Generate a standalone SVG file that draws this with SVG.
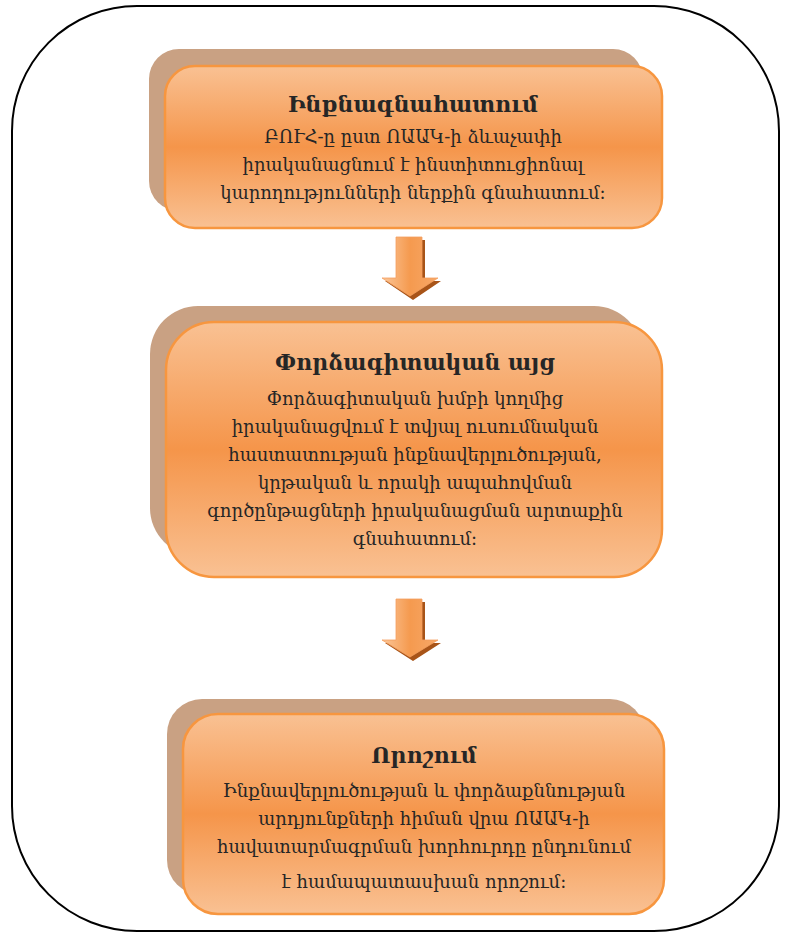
<svg xmlns="http://www.w3.org/2000/svg" width="790" height="934" viewBox="0 0 790 934">
<style>
.shadow{fill:#c9a183}
.box{fill:url(#g);stroke:#f7963f;stroke-width:2.5}
.title{font-family:"DejaVu Serif","Noto Sans",serif;font-weight:bold;font-size:22px;fill:#262626;text-anchor:middle}
.body{font-family:"DejaVu Serif","Noto Sans",serif;font-size:18px;fill:#262626;text-anchor:middle}
</style>
<defs>
<linearGradient id="g" x1="0" y1="0" x2="0" y2="1">
<stop offset="0" stop-color="#f9c193"/>
<stop offset="0.5" stop-color="#f5954a"/>
<stop offset="1" stop-color="#f9c193"/>
</linearGradient>
<linearGradient id="ag" x1="0" y1="0" x2="1" y2="0">
<stop offset="0" stop-color="#fbc79a"/>
<stop offset="0.5" stop-color="#f59a4f"/>
<stop offset="1" stop-color="#f7a868"/>
</linearGradient>
</defs>
<rect x="12" y="6" width="767" height="925" rx="125" ry="125" fill="#fff" stroke="#000" stroke-width="2"/>
<g id="connectors">
<g id="arrow1">
<path d="M399,240 H425 V281 H441 L413,300 L385,281 H399 Z" fill="#a85418"/>
<path d="M396,237 H422 V278 H438 L410,296 L382,278 H396 Z" fill="url(#ag)" stroke="#f4a060" stroke-width="0.8"/>
</g>
<g id="arrow2">
<path d="M399,602 H425 V643 H441 L413,661 L385,643 H399 Z" fill="#a85418"/>
<path d="M396,599 H422 V640 H438 L410,657 L382,640 H396 Z" fill="url(#ag)" stroke="#f4a060" stroke-width="0.8"/>
</g>
</g>
<g id="node1">
<rect class="shadow" x="149" y="49" width="494" height="162" rx="30"/>
<rect class="box" x="165" y="66" width="497" height="162" rx="30"/>
<text class="title" x="413" y="112">Ինքնագնահատում</text>
<text class="body" x="413" y="143">ԲՈՒՀ-ը ըստ ՈԱԱԿ-ի ձևաչափի</text>
<text class="body" x="413" y="171">իրականացնում է ինստիտուցիոնալ</text>
<text class="body" x="413" y="199">կարողությունների ներքին գնահատում:</text>
</g>
<g id="node2">
<rect class="shadow" x="150" y="306" width="492" height="250" rx="48"/>
<rect class="box" x="166" y="322" width="496" height="255" rx="48"/>
<text class="title" x="415" y="370">Փորձագիտական այց</text>
<text class="body" x="415" y="405">Փորձագիտական խմբի կողմից</text>
<text class="body" x="415" y="433">իրականացվում է  տվյալ ուսումնական</text>
<text class="body" x="415" y="461">հաստատության ինքնավերլուծության,</text>
<text class="body" x="415" y="489">կրթական և որակի ապահովման</text>
<text class="body" x="415" y="517">գործընթացների իրականացման արտաքին</text>
<text class="body" x="415" y="545">գնահատում:</text>
</g>
<g id="node3">
<rect class="shadow" x="167" y="699" width="478" height="196" rx="35"/>
<rect class="box" x="183" y="714" width="481" height="200" rx="35"/>
<text class="title" x="424" y="763">Որոշում</text>
<text class="body" x="424" y="797">Ինքնավերլուծության և փորձաքննության</text>
<text class="body" x="424" y="825">արդյունքների հիման վրա ՈԱԱԿ-ի</text>
<text class="body" x="424" y="853">հավատարմագրման խորհուրդը ընդունում</text>
<text class="body" x="424" y="888">է համապատասխան որոշում:</text>
</g>
</svg>
